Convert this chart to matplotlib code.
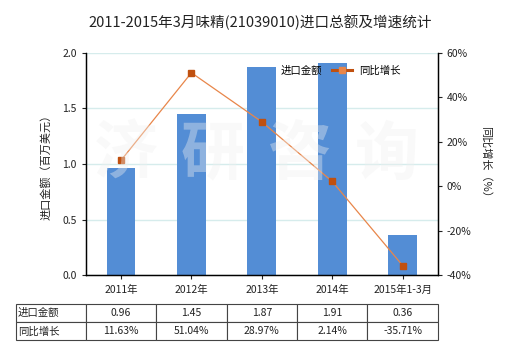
import matplotlib.pyplot as plt
from matplotlib.lines import Line2D
import numpy as np

plt.rcParams['font.family'] = ['Noto Sans CJK SC', 'DejaVu Sans']

# --- datos ---
categorias = ['2011年', '2012年', '2013年', '2014年', '2015年1-3月']
importe = [0.96, 1.45, 1.87, 1.91, 0.36]
crecimiento = [11.63, 51.04, 28.97, 2.14, -35.71]
importe_txt = ['0.96', '1.45', '1.87', '1.91', '0.36']
crecimiento_txt = ['11.63%', '51.04%', '28.97%', '2.14%', '-35.71%']

color_barra = '#538dd5'
color_linea = '#e8864a'
color_marca = '#c0500f'
color_grid = '#d6ecec'
color_txt = '#222222'

fig = plt.figure(figsize=(5.2, 3.5), dpi=100)
ax = fig.add_axes([0.165, 0.214, 0.677, 0.635])
ax2 = ax.twinx()

x = np.arange(len(categorias))
ax.bar(x, importe, width=0.41, color=color_barra, zorder=2)
ax.set_ylim(0, 2.0)
ax.set_xlim(-0.5, len(categorias) - 0.5)
ax.set_yticks([0, 0.5, 1.0, 1.5, 2.0])
ax.set_yticklabels(['0.0', '0.5', '1.0', '1.5', '2.0'])
ax.yaxis.grid(True, color=color_grid, linewidth=1, zorder=0)
ax.set_axisbelow(True)
ax.set_xticks(x)
ax.set_xticklabels(categorias)
ax.tick_params(axis='both', labelsize=7.5, colors=color_txt, length=3, width=0.8)
ax.tick_params(axis='x', pad=4)
ax.set_ylabel('进口金额（百万美元）', fontsize=8, color=color_txt, labelpad=8)

ax2.plot(x, crecimiento, color=color_linea, linewidth=0.9, marker='s',
         markersize=4, markerfacecolor=color_marca, markeredgecolor=color_marca,
         zorder=3)
ax2.set_ylim(-40, 60)
ax2.set_yticks([-40, -20, 0, 20, 40, 60])
ax2.set_yticklabels([f'{v}%' for v in [-40, -20, 0, 20, 40, 60]])
ax2.tick_params(axis='y', labelsize=7.5, colors=color_txt, length=3, width=0.8)
ax2.set_ylabel('同比增长（%）', fontsize=8, color=color_txt, rotation=-90, labelpad=14)

for a in (ax, ax2):
    a.spines['top'].set_visible(False)
    for lado in ('left', 'right', 'bottom'):
        a.spines[lado].set_linewidth(0.9)

# leyenda sin caja (el cuadro del importe queda oculto tras la barra)
h_imp = Line2D([], [], color='none')
h_crec = Line2D([], [], color=color_marca, linewidth=2.2, marker='s',
                markersize=4, markerfacecolor=color_linea, markeredgecolor=color_linea)
ax2.legend([h_imp, h_crec], ['进口金额', '同比增长'], loc='upper left',
           bbox_to_anchor=(0.45, 0.985), ncol=2, frameon=False, fontsize=7.5,
           handlelength=2.0, columnspacing=0.9, handletextpad=0.6)

# marca de agua
for i, ch in enumerate('济研咨询'):
    px = 126 + i * 87
    fig.text(px / 520, 1 - 155 / 350, ch, fontsize=46, fontweight='bold',
             color='#f0f0f0', alpha=0.38, ha='center', va='center', zorder=5)

fig.text(0.5, 0.937, '2011-2015年3月味精(21039010)进口总额及增速统计',
         ha='center', va='center', fontsize=10.5, color=color_txt)

# tabla inferior
filas = [['进口金额'] + importe_txt, ['同比增长'] + crecimiento_txt]
anchos = [70 / 422] + [70.4 / 422] * 5
tabla = ax.table(cellText=filas, colWidths=anchos, cellLoc='center',
                 bbox=[-0.199, -0.293, 1.199, 0.162])
tabla.auto_set_font_size(False)
tabla.set_fontsize(7.5)
for (r, c), celda in tabla.get_celld().items():
    celda.set_linewidth(0.8)
    celda.set_edgecolor('#444444')
    celda.get_text().set_color(color_txt)
    if c == 0:
        celda.get_text().set_ha('left')
        celda.PAD = 0.03

fig.savefig('out.png', dpi=100)
